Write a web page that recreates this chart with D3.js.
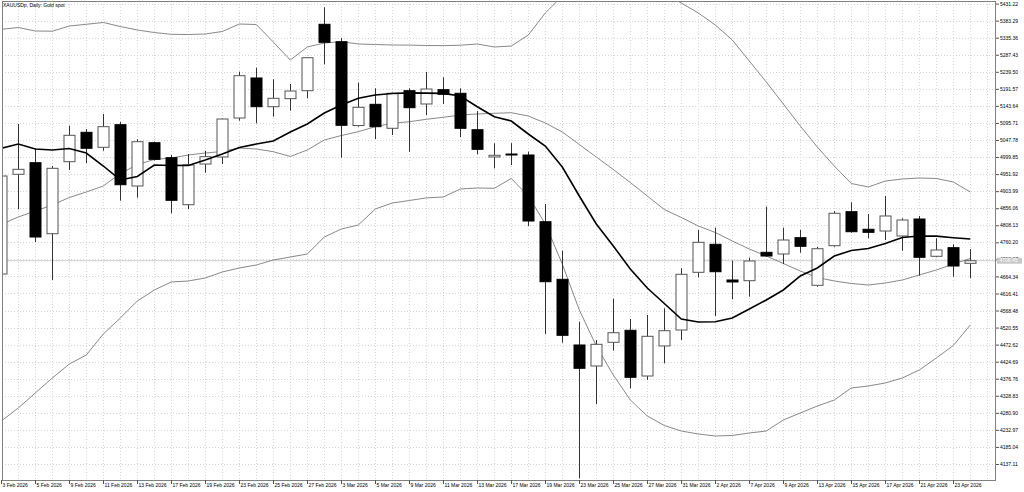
<!DOCTYPE html>
<html>
<head>
<meta charset="utf-8">
<script src="https://cdn.jsdelivr.net/npm/d3@7/dist/d3.min.js"></script>
<style>
  html, body { margin: 0; padding: 0; background: #fff; }
  svg { display: block; }
  text { font-family: "Liberation Sans", Arial, sans-serif; font-size: 5px; fill: #000; }
</style>
</head>
<body>
<svg id="chart" width="1024" height="492"></svg>
<script>
'use strict';

// trading days shown on the chart
const dates = [
  "2026-02-03","2026-02-04","2026-02-05","2026-02-06","2026-02-09","2026-02-10","2026-02-11","2026-02-12","2026-02-13",
  "2026-02-16","2026-02-17","2026-02-18","2026-02-19","2026-02-20","2026-02-23","2026-02-24","2026-02-25","2026-02-26","2026-02-27",
  "2026-03-02","2026-03-03","2026-03-04","2026-03-05","2026-03-06","2026-03-09","2026-03-10","2026-03-11","2026-03-12","2026-03-13",
  "2026-03-16","2026-03-17","2026-03-18","2026-03-19","2026-03-20","2026-03-23","2026-03-24","2026-03-25","2026-03-26","2026-03-27",
  "2026-03-30","2026-03-31","2026-04-01","2026-04-02","2026-04-06","2026-04-07","2026-04-08","2026-04-09","2026-04-10",
  "2026-04-13","2026-04-14","2026-04-15","2026-04-16","2026-04-17","2026-04-20","2026-04-21","2026-04-22","2026-04-23","2026-04-24"
];

const opens = [4671.1, 4951.4, 4984.0, 4784.4, 4986.8, 5069.4, 5027.3, 5090.8, 4918.5, 5040.2, 4998.0, 4865.9, 4980.3, 5000.0, 5109.6, 5222.1, 5141.4, 5164.0, 5186.4, 5373.0,
  5324.1, 5088.5, 5148.1, 5080.7, 5186.4, 5149.0, 5189.2, 5179.1, 5076.7, 5000.0, 5008.4, 5005.6, 4818.1, 4656.2, 4471.6, 4412.5, 4479.2, 4512.9, 4384.4, 4468.8,
  4513.7, 4675.9, 4754.6, 4654.3, 4652.3, 4732.1, 4727.4, 4773.2, 4639.4, 4750.7, 4846.3, 4796.8, 4792.0, 4778.0, 4825.7, 4720.9, 4745.1, 4701.2];
const highs = [4969.1, 5092.8, 5024.5, 4974.7, 5088.0, 5078.7, 5120.9, 5098.4, 5049.8, 5043.6, 5005.6, 5008.4, 5017.7, 5108.2, 5239.8, 5251.0, 5218.4, 5205.2, 5281.1, 5420.8,
  5334.5, 5208.8, 5193.1, 5180.7, 5193.1, 5238.9, 5224.0, 5193.1, 5129.3, 5038.5, 5039.0, 5014.9, 4867.9, 4736.6, 4537.1, 4485.6, 4601.7, 4544.7, 4555.9, 4574.7,
  4687.2, 4794.8, 4801.3, 4708.5, 4717.0, 4860.3, 4801.3, 4794.8, 4747.9, 4848.2, 4872.7, 4839.8, 4890.4, 4827.7, 4834.2, 4771.5, 4754.6, 4741.4];
const lows = [4657.1, 4853.0, 4761.1, 4654.3, 4963.5, 4983.0, 5017.7, 4877.2, 4885.6, 4990.2, 4841.8, 4853.0, 4955.9, 4980.3, 5102.0, 5094.7, 5113.3, 5130.1, 5165.0, 5260.6,
  4998.0, 5085.2, 5050.6, 5061.8, 5014.9, 5118.1, 5149.0, 5055.4, 5007.6, 4968.2, 4977.5, 4806.1, 4502.5, 4478.0, 4097.0, 4304.9, 4455.6, 4349.9, 4373.2, 4420.1,
  4485.6, 4661.9, 4553.1, 4600.0, 4607.3, 4719.8, 4699.2, 4731.0, 4635.4, 4747.9, 4787.2, 4771.5, 4766.7, 4736.6, 4666.3, 4718.1, 4663.5, 4659.1];
const closes = [4946.6, 4965.4, 4775.1, 4968.2, 5061.0, 5024.5, 5085.2, 4922.1, 5043.0, 4993.5, 4878.3, 4977.5, 5000.9, 5106.8, 5228.5, 5141.4, 5165.0, 5185.5, 5279.1, 5322.4,
  5089.1, 5139.7, 5085.2, 5179.1, 5138.6, 5191.1, 5176.2, 5080.7, 5021.6, 5004.8, 5005.6, 4820.1, 4649.5, 4498.8, 4406.1, 4473.5, 4506.1, 4380.8, 4496.0, 4511.8,
  4670.3, 4760.2, 4677.6, 4648.7, 4707.7, 4721.7, 4766.7, 4749.0, 4742.2, 4841.8, 4790.0, 4788.3, 4834.2, 4822.9, 4718.1, 4738.6, 4693.6, 4708.45];

// thick moving average
const maFast = [5024.5, 5036.5, 5022.5, 5019.7, 5023.9, 5011.2, 4974.7, 4935.4, 4945.2, 4977.5, 4976.1, 4976.4, 4991.6, 5008.4, 5026.7, 5036.5, 5045.0, 5070.3, 5092.8, 5123.7,
  5146.2, 5165.0, 5174.3, 5178.5, 5180.2, 5179.6, 5178.9, 5171.5, 5141.4, 5113.3, 5101.2, 5064.7, 5030.9, 4971.9, 4890.4, 4811.7, 4749.8, 4685.2, 4631.8, 4588.2,
  4544.7, 4536.2, 4536.9, 4547.5, 4572.8, 4598.1, 4626.2, 4665.5, 4688.0, 4721.7, 4737.2, 4742.8, 4756.9, 4773.7, 4778.0, 4777.6, 4773.2, 4769.5];

// bollinger bands
const bbMid = [4810.3, 4831.4, 4848.2, 4865.1, 4886.2, 4901.6, 4918.5, 4953.6, 4978.4, 4993.0, 4997.2, 5005.6, 5011.2, 5015.5, 5025.3, 5022.5, 5014.9, 5001.4, 5019.7, 5047.8,
  5060.4, 5071.1, 5085.2, 5094.7, 5099.2, 5106.0, 5111.6, 5118.1, 5120.9, 5122.8, 5124.5, 5115.2, 5095.6, 5070.3, 5035.1, 5000.0, 4964.9, 4928.3, 4890.4, 4852.4,
  4830.0, 4806.1, 4787.8, 4763.9, 4741.4, 4721.7, 4700.7, 4679.6, 4661.3, 4651.5, 4644.4, 4640.2, 4645.8, 4654.3, 4668.3, 4682.4, 4699.2, 4714.7];
const bbUp = [5358.9, 5364.0, 5354.2, 5353.6, 5368.2, 5373.0, 5378.1, 5366.8, 5357.0, 5349.9, 5344.9, 5344.3, 5345.7, 5352.8, 5373.8, 5372.4, 5323.2, 5272.7, 5309.2, 5320.4,
  5324.1, 5317.6, 5316.2, 5314.8, 5314.5, 5313.4, 5313.0, 5314.2, 5317.6, 5309.2, 5312.0, 5342.9, 5404.8, 5452.5, 5500.3, 5531.2, 5542.5, 5539.7, 5508.8, 5458.2,
  5432.9, 5404.8, 5371.0, 5328.9, 5269.8, 5210.8, 5149.0, 5087.1, 5028.1, 4974.7, 4925.5, 4915.7, 4932.5, 4938.2, 4941.0, 4939.6, 4929.7, 4901.6];
const bbLow = [4258.0, 4294.5, 4336.7, 4378.8, 4418.2, 4443.5, 4502.5, 4547.5, 4595.2, 4626.2, 4648.7, 4651.5, 4659.9, 4676.8, 4688.0, 4696.4, 4710.5, 4718.9, 4727.4, 4775.1,
  4797.6, 4808.9, 4853.8, 4870.7, 4877.7, 4885.0, 4887.6, 4910.1, 4912.9, 4912.0, 4939.6, 4890.4, 4811.7, 4699.2, 4570.0, 4468.8, 4387.2, 4317.0, 4272.0, 4245.3,
  4229.8, 4221.4, 4215.8, 4217.2, 4224.2, 4229.8, 4260.8, 4280.4, 4300.1, 4317.0, 4350.7, 4356.3, 4364.8, 4378.8, 4401.3, 4435.0, 4470.2, 4527.8];

// price scale labels
const priceTicks = [5431.22, 5383.29, 5335.36, 5287.43, 5239.50, 5191.57, 5143.64, 5095.71, 5047.78, 4999.85, 4951.92, 4903.99, 4856.06, 4808.13,
  4760.20, 4712.27, 4664.34, 4616.41, 4568.48, 4520.55, 4472.62, 4424.69, 4376.76, 4328.83, 4280.90, 4232.97, 4185.04, 4137.11];

const title = "XAUUSDp, Daily:  Gold spot";

// ---- layout
const svg = d3.select("#chart");
const plotLeft = 2, plotRight = 996, plotTop = 1, plotBottom = 480;
const BODY = 11;

const parse = d3.timeParse("%Y-%m-%d");
const fmt = d3.timeFormat("%-d %b %Y");

let x = d3.scalePoint().domain(d3.range(dates.length)).range([1.3, 970.3]);
let y = d3.scaleLinear().domain([4092.1, 5438.5]).range([plotBottom, plotTop]);

svg.append("rect").attr("width", 1024).attr("height", 492).attr("fill", "#fff");

svg.append("clipPath").attr("id", "plot")
  .append("rect").attr("x", plotLeft).attr("y", plotTop).attr("width", plotRight - plotLeft).attr("height", plotBottom - plotTop);

// grid
let grid = svg.append("g").attr("shape-rendering", "crispEdges")
  .attr("stroke", "#d6d6d6").attr("stroke-dasharray", "1,2");
grid.selectAll("line.h").data(priceTicks).enter().append("line")
  .attr("x1", plotLeft).attr("x2", plotRight)
  .attr("y1", d => Math.round(y(d)) + 0.5).attr("y2", d => Math.round(y(d)) + 0.5);
let gridCols = d3.range(1, 60).filter(i => x(0) + i * x.step() < plotRight);
grid.selectAll("line.v").data(gridCols).enter().append("line")
  .attr("x1", i => Math.round(x(0) + i * x.step()) + 0.5).attr("x2", i => Math.round(x(0) + i * x.step()) + 0.5)
  .attr("y1", plotTop).attr("y2", plotBottom);

let plot = svg.append("g").attr("clip-path", "url(#plot)");

// bid line
let bid = closes[closes.length - 1];
plot.append("line").attr("x1", plotLeft).attr("x2", plotRight)
  .attr("y1", y(bid)).attr("y2", y(bid))
  .attr("stroke", "#cfcfcf").attr("stroke-width", 1);

// bollinger bands
let line = function(values) {
  return d3.line().x((d, i) => x(i)).y(d => y(d))(values);
};
[bbUp, bbMid, bbLow].forEach(function(band) {
  plot.append("path").attr("d", line(band))
    .attr("fill", "none").attr("stroke", "#7a7a7a").attr("stroke-width", 0.9);
});

// candles
let candles = plot.append("g").selectAll("g").data(d3.range(dates.length)).enter().append("g");
candles.append("line")
  .attr("x1", i => Math.round(x(i)) + 0.5).attr("x2", i => Math.round(x(i)) + 0.5)
  .attr("y1", i => y(highs[i])).attr("y2", i => y(lows[i]))
  .attr("stroke", "#333").attr("stroke-width", 1);
candles.append("rect")
  .attr("x", i => Math.round(x(i)) - BODY / 2 + 0.5)
  .attr("y", i => y(Math.max(opens[i], closes[i])))
  .attr("width", BODY)
  .attr("height", i => Math.max(1, Math.abs(y(opens[i]) - y(closes[i]))))
  .attr("fill", i => closes[i] >= opens[i] ? "#fff" : "#000")
  .attr("stroke", i => closes[i] >= opens[i] ? "#555" : "#000")
  .attr("stroke-width", 1);

// fast moving average
plot.append("path").attr("d", line(maFast))
  .attr("fill", "none").attr("stroke", "#000").attr("stroke-width", 1.6);

// frame
svg.append("rect").attr("x", plotLeft + 0.5).attr("y", plotTop + 0.5)
  .attr("width", plotRight - plotLeft - 1).attr("height", plotBottom - plotTop)
  .attr("fill", "none").attr("stroke", "#808080").attr("shape-rendering", "crispEdges");

// price axis
let yAxis = svg.append("g").attr("transform", "translate(" + plotRight + ",0)")
  .call(d3.axisRight(y).tickValues(priceTicks).tickSize(3).tickPadding(1).tickFormat(d3.format(".2f")));
yAxis.select(".domain").remove();
yAxis.selectAll("line").attr("stroke", "#555");
yAxis.selectAll("text").attr("font-size", null).attr("font-family", null).attr("fill", "#000");

// current price label
let bidY = y(bid);
svg.append("rect").attr("x", 997).attr("y", bidY - 3).attr("width", 25).attr("height", 6).attr("fill", "#c8c8c8");
svg.append("text").attr("x", 999.5).attr("y", bidY).attr("dy", "0.34em").style("fill", "#fff")
  .text(d3.format(".2f")(bid));

// date axis
let labelIdx = d3.range(0, dates.length, 2);
let xAxis = svg.append("g").attr("transform", "translate(0," + plotBottom + ")");
xAxis.selectAll("line").data(labelIdx).enter().append("line")
  .attr("x1", i => Math.round(x(i)) + 0.5).attr("x2", i => Math.round(x(i)) + 0.5)
  .attr("y1", 0).attr("y2", 4).attr("stroke", "#555");
xAxis.selectAll("text").data(labelIdx).enter().append("text")
  .attr("x", i => Math.round(x(i)) + 1.5).attr("y", 7)
  .text(i => fmt(parse(dates[i])));

// title
svg.append("text").attr("x", 3).attr("y", 6.5).text(title);
</script>
</body>
</html>
